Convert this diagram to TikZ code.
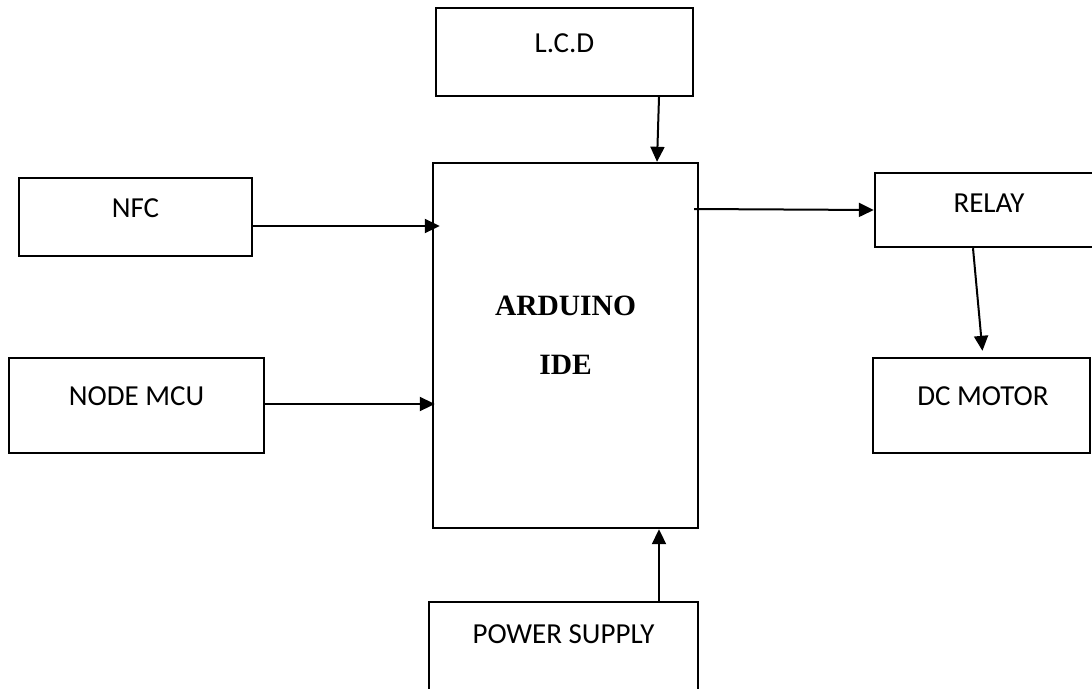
\documentclass[tikz,border=0pt]{standalone}
\usepackage{fontspec}
\setmainfont{Carlito}
\newfontfamily\ardfont{Liberation Serif}
\usetikzlibrary{arrows.meta}
\tikzset{
    box/.style={rectangle, draw, line width=2.4pt, inner sep=0pt}
}
\tikzset{
    txt/.style={anchor=base, inner sep=0pt, font=\fontsize{29}{32}\selectfont}
}
\tikzset{
    ardtxt/.style={anchor=base, inner sep=0pt,
    	font=\fontsize{29.5}{32}\selectfont\ardfont\bfseries}
}
\tikzset{
    link/.style={line width=2pt, -{Triangle[length=15pt,width=14pt]}}
}

\begin{document}
\begin{tikzpicture}[x=1pt, y=-1pt]
  \useasboundingbox (0,0) rectangle (1092,688);
  \clip (0,0) rectangle (1092,688);
  \node (lcd) [box, minimum width=257pt, minimum height=88pt] at (564.5,52) {};
  \node (nfc) [box, minimum width=233pt, minimum height=78pt] at (135.5,217) {};
  \node (mcu) [box, minimum width=255pt, minimum height=95pt] at (136.5,405.5) {};
  \node (ard) [box, minimum width=265pt, minimum height=365pt] at (565.5,345.5) {};
  \node (relay) [box, minimum width=228pt, minimum height=74pt] at (989,210) {};
  \node (motor) [box, minimum width=217pt, minimum height=95pt] at (981.5,405.5) {};
  \node (power) [box, minimum width=269pt, minimum height=100pt] at (563.5,652) {};

  \node (lcd text) [txt] at (564.5,52) {L.C.D};
  \node (nfc text) [txt] at (135.5,217) {NFC};
  \node (mcu text) [txt] at (136.5,405) {NODE MCU};
  \node (relay text) [txt] at (989,212) {RELAY};
  \node (motor text) [txt] at (983,405) {DC MOTOR};
  \node (power text) [txt] at (563.5,643) {POWER SUPPLY};
  \node (ard text1) [ardtxt] at (565.5,315) {ARDUINO};
  \node (ard text2) [ardtxt] at (565.5,374) {IDE};

  \draw [link] ([xshift=94.5pt]lcd.south) -- ([xshift=91.5pt]ard.north);
  \draw [link, shorten >=-8pt] ([yshift=-9pt]nfc.east) -- ([yshift=-9pt]nfc.east -| ard.west);
  \draw [link, shorten >=-3pt] ([yshift=1.5pt]mcu.east) -- ([yshift=1.5pt]mcu.east -| ard.west);
  \draw [link] ([xshift=-5pt, yshift=136.5pt]ard.east) -- (relay.west);
  \draw [link, shorten >=6pt] ([xshift=-16pt]relay.south) -- ([xshift=1.5pt]motor.north);
  \draw [link] ([xshift=95.5pt]power.north) -- ([xshift=93.5pt]ard.south);
\end{tikzpicture}
\end{document}
